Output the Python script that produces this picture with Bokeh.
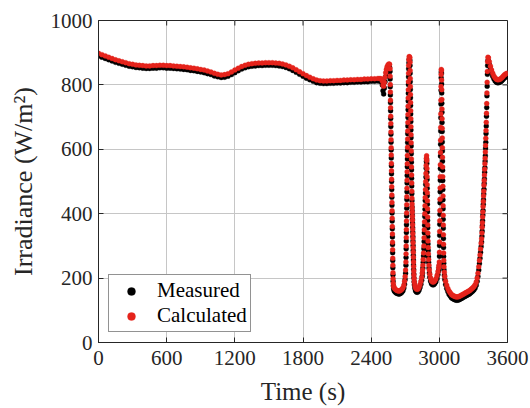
import math
from bokeh.plotting import figure
from bokeh.models import Range1d, FixedTicker, Legend, LegendItem
from bokeh.embed import file_html
from bokeh.resources import INLINE

x_ticks = [0, 600, 1200, 1800, 2400, 3000, 3600]
y_ticks = [0, 200, 400, 600, 800, 1000]
series_names = ["Measured", "Calculated"]

# smooth part of the record, every 30 s
time_flat = list(range(0, 2490, 30))
calc_flat = [898, 894, 890, 886, 882, 878, 875, 872, 869, 866,
             864, 862, 861, 860, 859, 859, 860, 860, 861, 861,
             860, 860, 859, 858, 857, 856, 855, 853, 852, 850,
             848, 846, 843, 840, 836, 833, 831, 832, 835, 840,
             846, 852, 857, 861, 864, 866, 867, 868, 868, 869,
             869, 869, 868, 867, 865, 862, 858, 853, 847, 841,
             835, 829, 824, 819, 815, 813, 812, 812, 813, 813,
             814, 814, 815, 815, 816, 816, 817, 817, 818, 818,
             819, 819, 820]
meas_flat = [890, 886, 882, 878, 874, 870, 867, 864, 861, 858,
             856, 854, 853, 852, 851, 851, 852, 852, 853, 853,
             852, 852, 851, 850, 849, 848, 847, 845, 844, 842,
             840, 838, 835, 832, 828, 825, 823, 824, 827, 832,
             838, 844, 849, 853, 856, 858, 859, 860, 860, 861,
             861, 861, 860, 859, 857, 854, 850, 845, 839, 833,
             827, 821, 816, 811, 807, 805, 804, 804, 805, 805,
             806, 806, 807, 807, 808, 808, 809, 809, 810, 810,
             811, 811, 812]

# cloud-transient part of the record (dense samples)
time_dips = [2478, 2490, 2498, 2504, 2510, 2516, 2522, 2528, 2534, 2540, 2548, 2556, 2562,
             2566, 2567, 2568, 2569, 2570, 2571, 2572, 2573, 2574, 2575, 2576, 2577, 2578, 2579, 2580,
             2581, 2582, 2583, 2584, 2585, 2586, 2587, 2588, 2589, 2590, 2591, 2592, 2593, 2595, 2598,
             2602, 2610, 2620, 2630, 2640, 2650, 2660, 2670, 2680, 2688, 2694, 2699, 2703,
             2706, 2707, 2708, 2709, 2710, 2711, 2712, 2713, 2714, 2715, 2716, 2717, 2718, 2719, 2720,
             2721, 2722, 2723, 2724, 2725, 2726, 2727, 2728, 2729, 2730, 2732, 2735,
             2738, 2740, 2742, 2743, 2744, 2745, 2746, 2747, 2748, 2749, 2750, 2751, 2752, 2753, 2754,
             2755, 2756, 2757, 2758, 2759, 2760, 2761, 2762, 2763, 2764, 2765, 2766, 2767, 2768, 2769,
             2770, 2771, 2772, 2773, 2774, 2775, 2776, 2778, 2780,
             2784, 2790, 2798, 2806, 2814, 2822, 2830, 2838, 2845, 2850,
             2852, 2855, 2858, 2861, 2864, 2866, 2868, 2870, 2872, 2874, 2876, 2878, 2880, 2882, 2884,
             2886, 2888, 2890, 2891, 2892, 2893, 2894, 2895, 2896, 2897, 2898, 2899, 2900,
             2902, 2904, 2906, 2909, 2912, 2916,
             2922, 2930, 2940, 2950, 2960, 2970, 2980, 2988, 2994, 2998,
             3000, 3001, 3002, 3003, 3004, 3005, 3006, 3007, 3008, 3009, 3010, 3011, 3012, 3013, 3014,
             3015, 3016, 3017,
             3019, 3020, 3021, 3022, 3023, 3024, 3025, 3026, 3027, 3028, 3029, 3030, 3031, 3032, 3033,
             3034, 3035, 3036, 3037, 3038, 3039, 3041, 3044, 3048,
             3055, 3065, 3075, 3085, 3095, 3105, 3115, 3125, 3135, 3145, 3155, 3165, 3175, 3185, 3195,
             3205, 3215, 3225, 3235, 3245, 3255, 3265, 3275, 3285, 3295, 3305, 3315,
             3325, 3333, 3340, 3347, 3353, 3358, 3363, 3368, 3372,
             3375, 3377, 3379, 3381, 3383, 3385, 3387, 3389, 3391, 3393, 3395, 3397, 3399, 3401, 3403,
             3405, 3407, 3409, 3411, 3413, 3415, 3417, 3419, 3421, 3423, 3425, 3428,
             3432, 3440, 3450, 3460, 3470, 3480, 3490, 3500, 3510, 3520, 3530, 3540, 3550, 3560, 3570,
             3580, 3590, 3598]
calc_dips = [820, 818, 812, 800, 796, 808, 824, 838, 848, 856, 862, 865, 864,
             850, 827, 801, 778, 752, 729, 703, 680, 654, 630, 605, 582, 556, 533, 507,
             484, 458, 435, 409, 386, 360, 337, 311, 288, 262, 240, 217, 198, 184, 175,
             170, 166, 163, 161, 160, 160, 162, 165, 170, 178, 190, 205, 225,
             250, 275, 300, 326, 351, 377, 402, 428, 453, 479, 504, 530, 555, 581, 606,
             632, 657, 683, 708, 734, 759, 785, 810, 836, 860, 878, 888,
             886, 884, 870, 845, 820, 795, 770, 745, 720, 695, 670, 645, 620, 595, 570,
             545, 520, 495, 470, 448, 430, 418, 405, 392, 380, 366, 352, 338, 324, 310,
             295, 280, 265, 250, 236, 222, 210, 198, 188,
             178, 170, 166, 165, 167, 172, 180, 190, 202, 215,
             225, 240, 258, 278, 300, 325, 350, 375, 400, 425, 450, 475, 500, 525, 550,
             572, 580, 565, 540, 515, 490, 465, 440, 415, 390, 365, 340, 315,
             295, 275, 258, 240, 225, 212,
             200, 192, 188, 188, 192, 198, 208, 220, 232, 240,
             250, 280, 312, 345, 378, 410, 445, 480, 515, 552, 590, 628, 668, 710, 752,
             795, 832, 848,
             845, 815, 785, 755, 725, 695, 665, 635, 605, 575, 545, 515, 485, 455, 425,
             395, 365, 335, 305, 278, 255, 235, 218, 205,
             190, 178, 168, 160, 155, 150, 147, 145, 143, 142, 141, 142, 143, 145, 147,
             149, 151, 153, 155, 157, 159, 161, 164, 167, 170, 174, 179,
             188, 200, 215, 235, 255, 272, 290, 308, 322,
             340, 358, 372, 390, 405, 422, 438, 455, 470, 488, 503, 520, 538, 555, 572,
             592, 612, 634, 658, 684, 712, 742, 775, 808, 842, 872, 886,
             884, 872, 858, 846, 836, 828, 822, 818, 816, 816, 817, 819, 822, 826, 830,
             833, 835, 836]
meas_dips = [812, 810, 800, 782, 772, 790, 810, 826, 838, 848, 854, 857, 855,
             842, 818, 794, 769, 745, 720, 696, 671, 647, 622, 598, 573, 549, 524, 500,
             475, 451, 426, 402, 377, 353, 328, 304, 279, 255, 232, 210, 190, 176, 167,
             161, 157, 154, 152, 151, 151, 153, 156, 161, 169, 181, 196, 215,
             240, 264, 291, 315, 342, 366, 393, 417, 444, 468, 495, 519, 546, 570, 597,
             621, 648, 672, 699, 723, 750, 774, 801, 825, 850, 869, 880,
             878, 876, 860, 836, 810, 786, 760, 736, 710, 686, 660, 636, 610, 586, 560,
             536, 510, 486, 462, 440, 421, 409, 396, 383, 371, 357, 343, 329, 315, 301,
             286, 271, 256, 241, 227, 213, 201, 189, 179,
             169, 161, 157, 156, 158, 163, 171, 181, 193, 206,
             216, 231, 249, 269, 291, 314, 341, 364, 391, 414, 441, 464, 491, 514, 541,
             562, 570, 556, 529, 506, 479, 456, 429, 406, 379, 356, 329, 306,
             286, 266, 249, 231, 216, 203,
             191, 183, 179, 179, 183, 189, 199, 211, 223, 231,
             240, 268, 301, 333, 367, 398, 434, 468, 504, 540, 579, 616, 657, 698, 741,
             783, 822, 840,
             836, 803, 775, 743, 715, 683, 655, 623, 595, 563, 535, 503, 475, 443, 415,
             383, 355, 323, 295, 267, 246, 226, 209, 196,
             180, 168, 158, 150, 145, 140, 137, 135, 133, 132, 131, 132, 133, 135, 137,
             139, 141, 143, 145, 147, 149, 151, 154, 157, 160, 164, 169,
             178, 190, 205, 225, 245, 262, 280, 298, 312,
             330, 346, 363, 378, 396, 410, 429, 443, 461, 476, 494, 508, 529, 543, 563,
             580, 603, 622, 649, 672, 703, 730, 766, 796, 833, 860, 876,
             875, 863, 849, 837, 827, 819, 813, 809, 807, 807, 808, 810, 813, 817, 821,
             824, 826, 827]

assert len(time_flat) == len(calc_flat) == len(meas_flat)
assert len(time_dips) == len(calc_dips) == len(meas_dips)

time_all = time_flat + time_dips
calc_all = calc_flat + calc_dips
meas_all = meas_flat + meas_dips

FONT = "Liberation Serif"
TXT = "#262626"
RED = "#e5231b"

p = figure(width=530, height=408, output_backend="svg", toolbar_location=None,
           x_range=Range1d(x_ticks[0], x_ticks[-1]), y_range=Range1d(y_ticks[0], y_ticks[-1]),
           min_border_left=98, min_border_right=23, min_border_top=20, min_border_bottom=66,
           background_fill_color="white", border_fill_color="white")
p.outline_line_color = TXT
p.outline_line_width = 1

xa = p.xaxis[0]
ya = p.yaxis[0]
for ax, ticks in ((xa, x_ticks), (ya, y_ticks)):
    ax.ticker = FixedTicker(ticks=ticks)
    ax.major_tick_in = 5
    ax.major_tick_out = 0
    ax.minor_tick_line_color = None
    ax.axis_line_color = TXT
    ax.major_tick_line_color = TXT
    ax.major_label_text_font = FONT
    ax.major_label_text_font_size = "21px"
    ax.major_label_text_color = TXT
    ax.axis_label_text_font = FONT
    ax.axis_label_text_font_style = "normal"
    ax.axis_label_text_color = TXT

xa.axis_label = "Time (s)"
xa.axis_label_text_font_size = "25px"
xa.major_label_standoff = 8
xa.axis_label_standoff = 10
ya.axis_label = "Irradiance (W/m²)"
ya.axis_label_text_font_size = "26px"
ya.major_label_standoff = 6
ya.axis_label_standoff = 10

p.xgrid.ticker = FixedTicker(ticks=x_ticks)
p.ygrid.ticker = FixedTicker(ticks=y_ticks)
p.xgrid.grid_line_color = "#c6c6c6"
p.ygrid.grid_line_color = "#c6c6c6"

# inward tick marks on the top and right sides of the box (MATLAB "box on")
p.ray(x=x_ticks, y=[y_ticks[-1]] * len(x_ticks), length=5, length_units="screen",
      angle=-math.pi / 2, line_color=TXT, line_width=1)
p.ray(x=[x_ticks[-1]] * len(y_ticks), y=y_ticks, length=5, length_units="screen",
      angle=math.pi, line_color=TXT, line_width=1)

r_meas = p.scatter(time_all, meas_all, size=5, fill_color="black", line_color="black", line_width=0.3)
r_calc = p.scatter(time_all, calc_all, size=5, fill_color=RED, line_color=RED, line_width=0.3)

legend = Legend(items=[LegendItem(label=series_names[0], renderers=[r_meas]),
                       LegendItem(label=series_names[1], renderers=[r_calc])],
                location=(10, 10), orientation="vertical",
                label_text_font=FONT, label_text_font_size="21px", label_text_color="black",
                border_line_color=TXT, border_line_width=1,
                background_fill_color="white", background_fill_alpha=1,
                padding=3, spacing=0, margin=0, glyph_width=38, glyph_height=20,
                label_standoff=7, label_height=20)
p.add_layout(legend, "center")

open("out.html", "w").write(file_html(p, INLINE))
